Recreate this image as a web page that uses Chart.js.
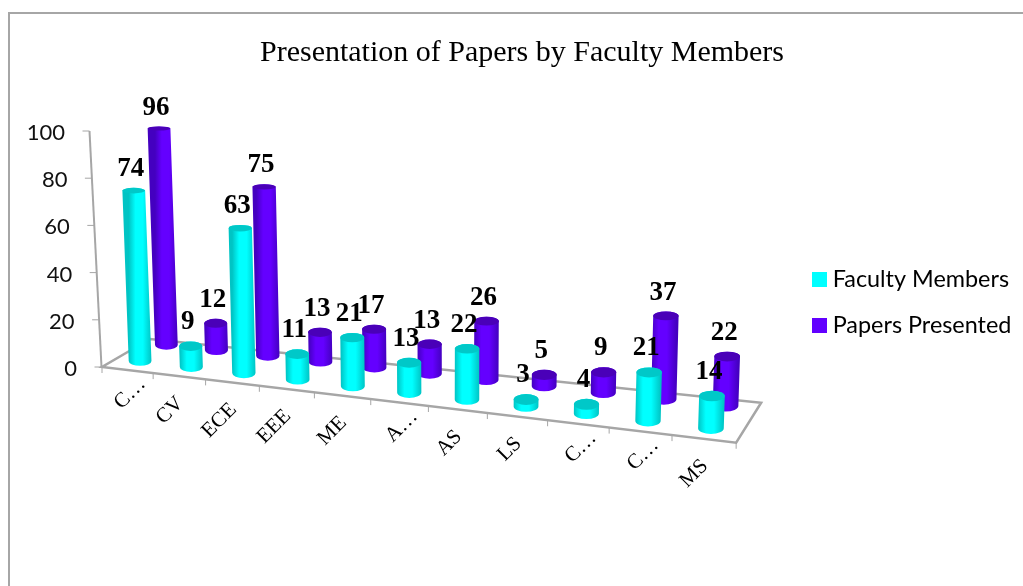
<!DOCTYPE html>
<html>
<head>
<meta charset="utf-8">
<script src="https://cdn.jsdelivr.net/npm/chart.js@4"></script>
<style>
html,body{margin:0;padding:0;width:1023px;height:586px;overflow:hidden;background:#fff}
#frame{position:absolute;left:8px;top:12px;width:1100px;height:700px;border-left:2px solid #a6a6a6;border-top:2px solid #a6a6a6}
canvas{position:absolute;left:0;top:0}
</style>
</head>
<body>
<div id="frame"></div>
<canvas id="c" width="1044" height="586"></canvas>
<script>
const categories = ['C…','CV','ECE','EEE','ME','A…','AS','LS','C…','C…','MS'];
const facultyMembers = [74,9,63,11,21,13,22,3,4,21,14];
const papersPresented = [96,12,75,13,17,13,26,5,9,37,22];
const seriesNames = ['Faculty Members','Papers Presented'];
const titleText = 'Presentation of Papers by Faculty Members';

const GREY = '#a6a6a6';
const SERIF = '"Liberation Serif","Times New Roman",serif';
const SANS = 'Lato,"Open Sans",sans-serif';
const looks = [
  {solid:'#00ffff', edge:'#00c4c4', mid:'#00ffff', cap:'#00c8c8', depth:0.27, shrink:0.975},
  {solid:'#6200ff', edge:'#4400c0', mid:'#6400ff', cap:'#4a00b8', depth:0.83, shrink:0.955}
];

// 3D view: maps the category scale's position onto the receding floor
const frontX = u => 102 + 50.5*u + 0.65*u*u;
const frontY = x => 367 + 76*(x-102)/636;
const depthVec = u => [48 - 23*u/11, -28 - 12*u/11];
function floorPoint(u, d){
  const x = frontX(u), v = depthVec(u);
  return [x + v[0]*d, frontY(x) + v[1]*d];
}
function catU(chart, i){
  const s = chart.scales.x;
  return (s.getPixelForValue(i) - s.left) / s.width * categories.length;
}
const ellipseRy = y => 2 + (y-127)*0.0125;

function cylinder(ctx, bx, by, tx, ty, hw, look){
  const rb = ellipseRy(by), rt = ellipseRy(ty);
  const g = ctx.createLinearGradient(bx-hw,0,bx+hw,0);
  g.addColorStop(0, look.edge); g.addColorStop(0.3, look.mid);
  g.addColorStop(0.62, look.mid); g.addColorStop(1, look.edge);
  ctx.beginPath();
  ctx.moveTo(tx-hw, ty);
  ctx.lineTo(bx-hw, by);
  ctx.ellipse(bx, by, hw, rb, 0, Math.PI, 0, true);
  ctx.lineTo(tx+hw, ty);
  ctx.ellipse(tx, ty, hw, rt, 0, 0, Math.PI, true);
  ctx.closePath();
  ctx.fillStyle = g; ctx.fill();
  ctx.beginPath();
  ctx.ellipse(tx, ty, hw, rt, 0, 0, Math.PI*2);
  ctx.fillStyle = look.cap; ctx.fill();
}
function barGeom(chart, dsIndex, i){
  const value = chart.data.datasets[dsIndex].data[i];
  const ys = chart.scales.y;
  const h = (ys.getPixelForValue(0) - ys.getPixelForValue(value)) * looks[dsIndex].shrink;
  const u = catU(chart, i);
  const p = floorPoint(u, looks[dsIndex].depth);
  const bx = p[0], by = p[1] - 1.5*(1-u/11);
  const tx = bx + (bx-450)*0.00012*h, ty = by - h;
  const hw = 11.3 + 1.6*u/11;
  return {bx, by, tx, ty, hw, value};
}
function swatch(color){
  const c = document.createElement('canvas'); c.width = 15; c.height = 15;
  const x = c.getContext('2d'); x.fillStyle = color; x.fillRect(0,0,15,15);
  return c;
}

const scene = {
  id:'scene',
  afterLayout(chart){
    const l = chart.legend;
    l.left = 795.4; l.right = 1044; l.top = 245.2; l.bottom = 586;
  },
  beforeDraw(chart){
    const ys = chart.scales.y, xs = chart.scales.x;
    ys.getLabelItems(chart.chartArea).forEach(item=>{
      const y = item.options.translation[1];
      item.options.translation = [65 + (y-131)/236*12, y+2];
      item.options.textAlign = 'right';
      item.options.textBaseline = 'middle';
    });
    xs.getLabelItems(chart.chartArea).forEach((item,i)=>{
      const x = frontX(i+0.5);
      const shift = categories[i].endsWith('…') ? [14,-13] : [0,0];
      item.options.translation = [x+1+shift[0], frontY(x)+24+shift[1]];
      item.options.rotation = -Math.PI/4;
      item.options.textAlign = 'right';
      item.options.textBaseline = 'middle';
      item.textOffset = 0;
    });
  },
  beforeDatasetsDraw(chart){
    const ctx = chart.ctx, ys = chart.scales.y, n = categories.length;
    ctx.save();
    ctx.strokeStyle = GREY; ctx.lineJoin = 'miter';
    const a = floorPoint(0,0), b = floorPoint(n,0), c = floorPoint(n,1), d = floorPoint(0,1);
    ctx.lineWidth = 2.5;
    ctx.beginPath();
    ctx.moveTo(d[0],d[1]); ctx.lineTo(a[0],a[1]); ctx.lineTo(b[0],b[1]); ctx.lineTo(c[0],c[1]); ctx.lineTo(d[0],d[1]);
    ctx.closePath();
    ctx.stroke();
    // category ticks under the front edge
    ctx.lineWidth = 1;
    ctx.beginPath();
    for(let i=0;i<=n;i++){
      const p = floorPoint(i,0);
      ctx.moveTo(p[0],p[1]); ctx.lineTo(p[0],p[1]+6);
    }
    ctx.stroke();
    // slanted value axis and its ticks
    const y0 = ys.getPixelForValue(0), y1 = ys.getPixelForValue(100);
    const axX = y => 89.5 + (y-y1)/(y0-y1)*12;
    ctx.lineWidth = 2;
    ctx.beginPath();
    ctx.moveTo(axX(y1),y1); ctx.lineTo(axX(y0),y0);
    ctx.stroke();
    ctx.lineWidth = 1;
    ctx.beginPath();
    ys.ticks.forEach(t=>{
      const y = ys.getPixelForValue(t.value);
      ctx.moveTo(axX(y),y); ctx.lineTo(axX(y)-7,y);
    });
    ctx.stroke();
    ctx.restore();
  },
  beforeDatasetDraw(chart, args){
    const ctx = chart.ctx, look = looks[args.index];
    ctx.save();
    args.meta.data.forEach((el,i)=>{
      const g = barGeom(chart, args.index, i);
      cylinder(ctx, g.bx, g.by, g.tx, g.ty, g.hw, look);
    });
    ctx.restore();
    return false;
  },
  afterDatasetsDraw(chart){
    const ctx = chart.ctx;
    ctx.save();
    ctx.font = 'bold 27px '+SERIF;
    ctx.fillStyle = '#000';
    ctx.textAlign = 'center';
    ctx.textBaseline = 'alphabetic';
    chart.data.datasets.forEach((ds,di)=>{
      ds.data.forEach((v,i)=>{
        const g = barGeom(chart, di, i);
        ctx.fillText(String(v), g.tx-3, g.ty-ellipseRy(g.ty)-12);
      });
    });
    ctx.restore();
  }
};

new Chart(document.getElementById('c'), {
  type:'bar',
  plugins:[scene],
  data:{
    labels:categories,
    datasets:[
      {label:seriesNames[0], data:facultyMembers, backgroundColor:looks[0].solid},
      {label:seriesNames[1], data:papersPresented, backgroundColor:looks[1].solid}
    ]
  },
  options:{
    responsive:false,
    animation:false,
    devicePixelRatio:1,
    layout:{padding:0, autoPadding:false},
    scales:{
      x:{
        grid:{display:false},
        border:{display:false},
        afterFit(s){ s.height = 219; },
        ticks:{autoSkip:false, minRotation:45, maxRotation:45, color:'#000',
               font:{family:SERIF, size:21}}
      },
      y:{
        min:0, max:100,
        grid:{display:false},
        border:{display:false},
        afterFit(s){ s.width = 102; },
        ticks:{stepSize:20, color:'#111', font:{family:SANS, size:22}}
      }
    },
    plugins:{
      tooltip:{enabled:false},
      title:{display:true, text:titleText, color:'#000',
             font:{family:SERIF, size:30, weight:'normal'},
             padding:{top:35, bottom:60}},
      legend:{
        position:'right', align:'start',
        labels:{
          usePointStyle:true, boxWidth:3, boxHeight:15, padding:22.6,
          color:'#111', font:{family:SANS, size:23.4},
          generateLabels(chart){
            return chart.data.datasets.map((ds,i)=>({
              text:ds.label, pointStyle:swatch(ds.backgroundColor),
              fillStyle:ds.backgroundColor, lineWidth:0, datasetIndex:i
            }));
          }
        }
      }
    }
  }
});
</script>
</body>
</html>
